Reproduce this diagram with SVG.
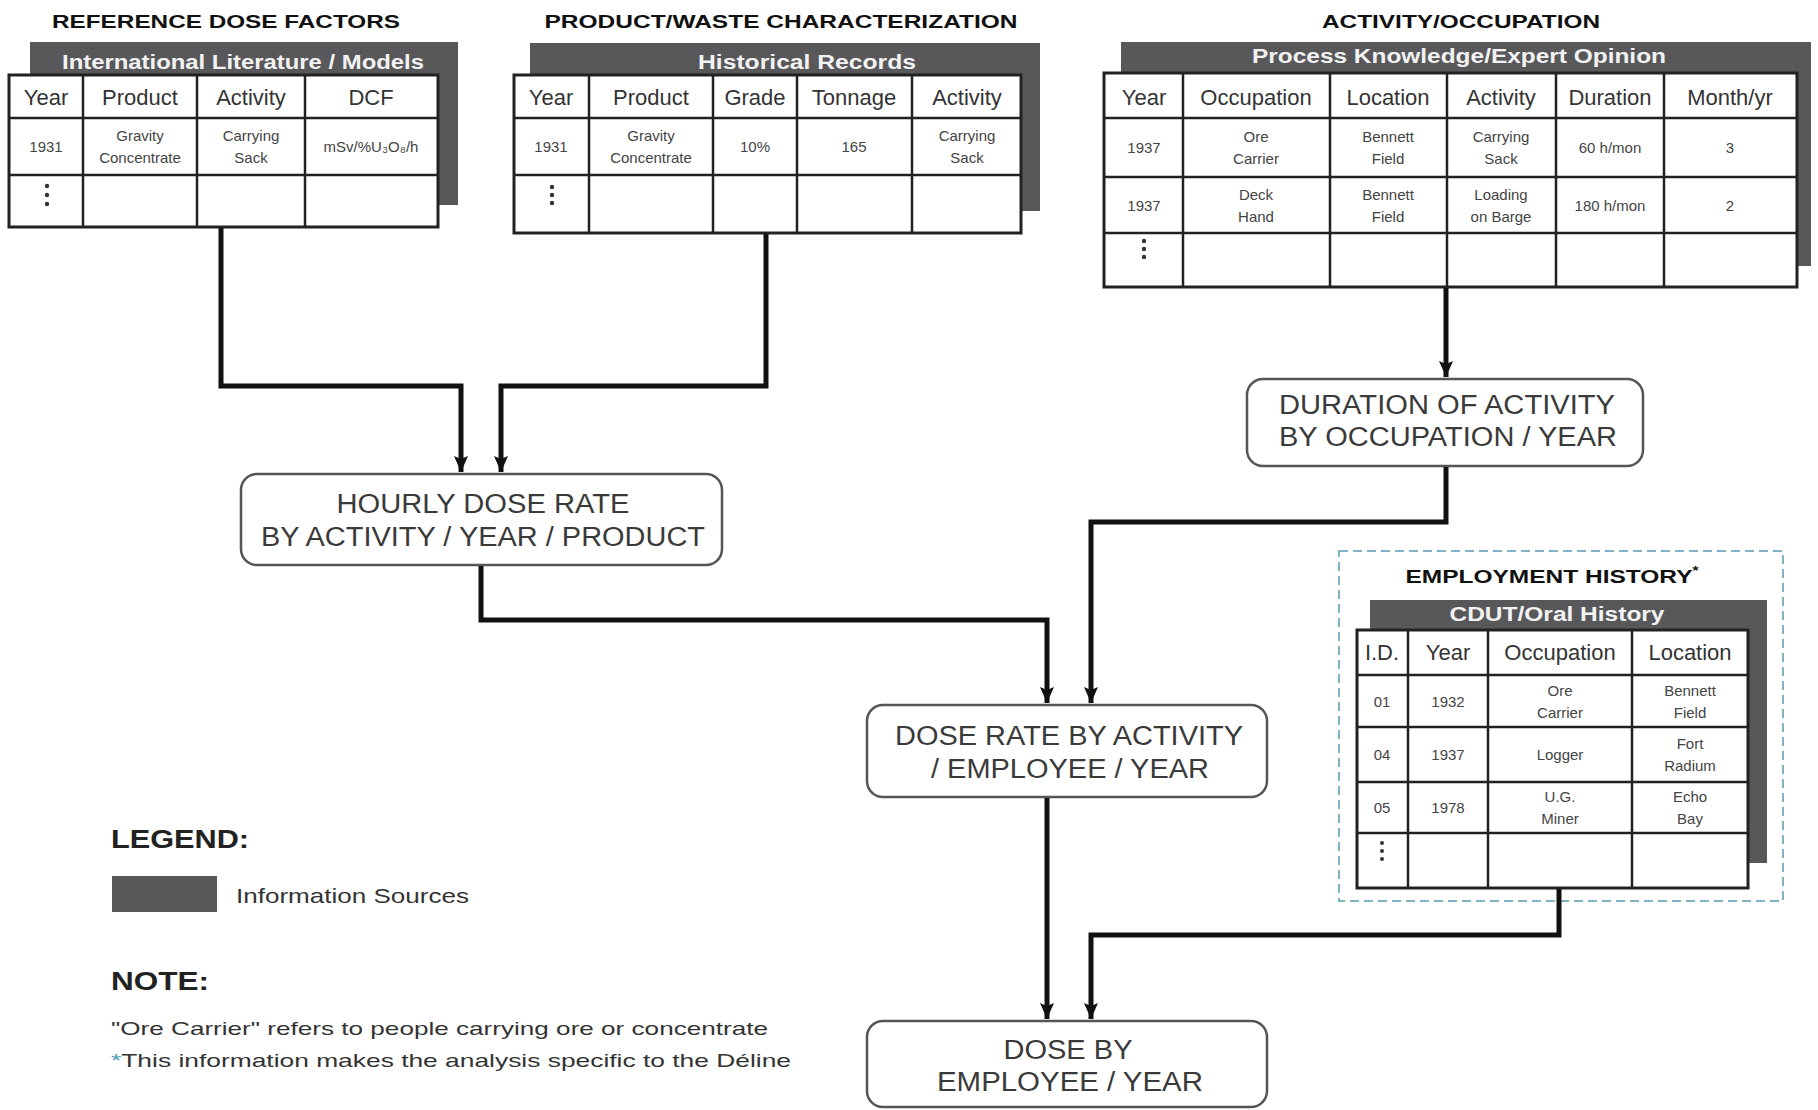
<svg xmlns="http://www.w3.org/2000/svg" width="1818" height="1110" viewBox="0 0 1818 1110">
<style>
text{font-family:"Liberation Sans",Arial,sans-serif;text-anchor:middle}
.title{font-size:19px;font-weight:bold;fill:#111}
.src{font-size:20px;font-weight:bold;fill:#f2f2f2}
.back{fill:#58585a}
.front{fill:#fff;stroke:#222;stroke-width:3}
.grid{stroke:#222;stroke-width:2.5;fill:none}
.hd{font-size:22px;fill:#333}
.cell{font-size:15px;fill:#444}
.node rect{fill:#fff;stroke:#555;stroke-width:2.5}
.nt{font-size:27px;fill:#3a3a3a}
.dot{fill:#333}
.conn{fill:none;stroke:#111;stroke-width:5;stroke-linejoin:miter}
.leg{font-size:26px;font-weight:bold;fill:#222;text-anchor:start}
.ltx{font-size:21px;fill:#333;text-anchor:start}
.note{font-size:19px;fill:#333;text-anchor:start}
</style>
<defs>
<marker id="arr" markerUnits="userSpaceOnUse" viewBox="0 0 16 14" refX="16" refY="7" markerWidth="16" markerHeight="14" orient="auto">
<path d="M0,0 L16,7 L0,14 L3,7 z" fill="#111"/>
</marker>
</defs>
<rect width="1818" height="1110" fill="#fff"/>

<!-- Table 1 -->
<g id="ref-dose-factors">
<text class="title" x="226" y="28" textLength="348" lengthAdjust="spacingAndGlyphs">REFERENCE DOSE FACTORS</text>
<rect class="back" x="30" y="42" width="428" height="163"/>
<text class="src" x="243" y="69" textLength="362" lengthAdjust="spacingAndGlyphs">International Literature / Models</text>
<rect class="front" x="9" y="75" width="429" height="152"/>
<path class="grid" d="M9,118 H438 M9,175 H438 M83,75 V227 M197,75 V227 M305,75 V227"/>
<text class="hd" x="46" y="105">Year</text>
<text class="hd" x="140" y="105">Product</text>
<text class="hd" x="251" y="105">Activity</text>
<text class="hd" x="371" y="105">DCF</text>
<text class="cell" x="46" y="152">1931</text>
<text class="cell" x="140" y="141">Gravity</text>
<text class="cell" x="140" y="163">Concentrate</text>
<text class="cell" x="251" y="141">Carrying</text>
<text class="cell" x="251" y="163">Sack</text>
<text class="cell" x="371" y="152">mSv/%U₃O₈/h</text>
<circle class="dot" cx="47" cy="186" r="2.2"/><circle class="dot" cx="47" cy="195" r="2.2"/><circle class="dot" cx="47" cy="204" r="2.2"/>
</g>

<!-- Table 2 -->
<g id="product-waste">
<text class="title" x="781" y="28" textLength="473" lengthAdjust="spacingAndGlyphs">PRODUCT/WASTE CHARACTERIZATION</text>
<rect class="back" x="530" y="43" width="510" height="168"/>
<text class="src" x="807" y="69" textLength="218" lengthAdjust="spacingAndGlyphs">Historical Records</text>
<rect class="front" x="514" y="75" width="507" height="158"/>
<path class="grid" d="M514,118 H1021 M514,175 H1021 M589,75 V233 M713,75 V233 M797,75 V233 M912,75 V233"/>
<text class="hd" x="551" y="105">Year</text>
<text class="hd" x="651" y="105">Product</text>
<text class="hd" x="755" y="105">Grade</text>
<text class="hd" x="854" y="105">Tonnage</text>
<text class="hd" x="967" y="105">Activity</text>
<text class="cell" x="551" y="152">1931</text>
<text class="cell" x="651" y="141">Gravity</text>
<text class="cell" x="651" y="163">Concentrate</text>
<text class="cell" x="755" y="152">10%</text>
<text class="cell" x="854" y="152">165</text>
<text class="cell" x="967" y="141">Carrying</text>
<text class="cell" x="967" y="163">Sack</text>
<circle class="dot" cx="552" cy="187" r="2.2"/><circle class="dot" cx="552" cy="195" r="2.2"/><circle class="dot" cx="552" cy="203" r="2.2"/>
</g>

<!-- Table 3 -->
<g id="activity-occupation">
<text class="title" x="1461" y="28" textLength="278" lengthAdjust="spacingAndGlyphs">ACTIVITY/OCCUPATION</text>
<rect class="back" x="1121" y="42" width="690" height="224"/>
<text class="src" x="1459" y="63" textLength="414" lengthAdjust="spacingAndGlyphs">Process Knowledge/Expert Opinion</text>
<rect class="front" x="1104" y="73" width="693" height="214"/>
<path class="grid" d="M1104,118 H1797 M1104,177 H1797 M1104,233 H1797 M1183,73 V287 M1330,73 V287 M1447,73 V287 M1556,73 V287 M1664,73 V287"/>
<text class="hd" x="1144" y="105">Year</text>
<text class="hd" x="1256" y="105">Occupation</text>
<text class="hd" x="1388" y="105">Location</text>
<text class="hd" x="1501" y="105">Activity</text>
<text class="hd" x="1610" y="105">Duration</text>
<text class="hd" x="1730" y="105">Month/yr</text>
<text class="cell" x="1144" y="153">1937</text>
<text class="cell" x="1256" y="142">Ore</text>
<text class="cell" x="1256" y="164">Carrier</text>
<text class="cell" x="1388" y="142">Bennett</text>
<text class="cell" x="1388" y="164">Field</text>
<text class="cell" x="1501" y="142">Carrying</text>
<text class="cell" x="1501" y="164">Sack</text>
<text class="cell" x="1610" y="153">60 h/mon</text>
<text class="cell" x="1730" y="153">3</text>
<text class="cell" x="1144" y="211">1937</text>
<text class="cell" x="1256" y="200">Deck</text>
<text class="cell" x="1256" y="222">Hand</text>
<text class="cell" x="1388" y="200">Bennett</text>
<text class="cell" x="1388" y="222">Field</text>
<text class="cell" x="1501" y="200">Loading</text>
<text class="cell" x="1501" y="222">on Barge</text>
<text class="cell" x="1610" y="211">180 h/mon</text>
<text class="cell" x="1730" y="211">2</text>
<circle class="dot" cx="1144" cy="241" r="2.2"/><circle class="dot" cx="1144" cy="249" r="2.2"/><circle class="dot" cx="1144" cy="257" r="2.2"/>
</g>

<!-- Employment history -->
<g id="employment-history">
<rect x="1339" y="551" width="444" height="350" fill="none" stroke="#7fb3c4" stroke-width="2" stroke-dasharray="9 5"/>
<text class="title" x="1552" y="583" textLength="293" lengthAdjust="spacingAndGlyphs">EMPLOYMENT HISTORY<tspan font-size="12" dy="-8">*</tspan></text>
<rect class="back" x="1370" y="600" width="397" height="263"/>
<text class="src" x="1557" y="621" textLength="215" lengthAdjust="spacingAndGlyphs">CDUT/Oral History</text>
<rect class="front" x="1357" y="630" width="391" height="258"/>
<path class="grid" d="M1357,675 H1748 M1357,727 H1748 M1357,782 H1748 M1357,833 H1748 M1408,630 V888 M1488,630 V888 M1632,630 V888"/>
<text class="hd" x="1382" y="660">I.D.</text>
<text class="hd" x="1448" y="660">Year</text>
<text class="hd" x="1560" y="660">Occupation</text>
<text class="hd" x="1690" y="660">Location</text>
<text class="cell" x="1382" y="707">01</text>
<text class="cell" x="1448" y="707">1932</text>
<text class="cell" x="1560" y="696">Ore</text>
<text class="cell" x="1560" y="718">Carrier</text>
<text class="cell" x="1690" y="696">Bennett</text>
<text class="cell" x="1690" y="718">Field</text>
<text class="cell" x="1382" y="760">04</text>
<text class="cell" x="1448" y="760">1937</text>
<text class="cell" x="1560" y="760">Logger</text>
<text class="cell" x="1690" y="749">Fort</text>
<text class="cell" x="1690" y="771">Radium</text>
<text class="cell" x="1382" y="813">05</text>
<text class="cell" x="1448" y="813">1978</text>
<text class="cell" x="1560" y="802">U.G.</text>
<text class="cell" x="1560" y="824">Miner</text>
<text class="cell" x="1690" y="802">Echo</text>
<text class="cell" x="1690" y="824">Bay</text>
<circle class="dot" cx="1382" cy="843" r="2"/><circle class="dot" cx="1382" cy="851" r="2"/><circle class="dot" cx="1382" cy="859" r="2"/>
</g>

<!-- Process nodes -->
<g id="hourly-dose-rate" class="node">
<rect x="241" y="474" width="481" height="91" rx="16"/>
<text class="nt" x="483" y="513" textLength="293" lengthAdjust="spacingAndGlyphs">HOURLY DOSE RATE</text>
<text class="nt" x="483" y="546" textLength="444" lengthAdjust="spacingAndGlyphs">BY ACTIVITY / YEAR / PRODUCT</text>
</g>
<g id="duration-of-activity" class="node">
<rect x="1247" y="379" width="396" height="87" rx="16"/>
<text class="nt" x="1447" y="414" textLength="336" lengthAdjust="spacingAndGlyphs">DURATION OF ACTIVITY</text>
<text class="nt" x="1448" y="446" textLength="338" lengthAdjust="spacingAndGlyphs">BY OCCUPATION / YEAR</text>
</g>
<g id="dose-rate-by-activity" class="node">
<rect x="867" y="705" width="400" height="92" rx="16"/>
<text class="nt" x="1069" y="745" textLength="348" lengthAdjust="spacingAndGlyphs">DOSE RATE BY ACTIVITY</text>
<text class="nt" x="1070" y="778" textLength="278" lengthAdjust="spacingAndGlyphs">/ EMPLOYEE / YEAR</text>
</g>
<g id="dose-by-employee" class="node">
<rect x="867" y="1021" width="400" height="86" rx="16"/>
<text class="nt" x="1068" y="1059" textLength="129" lengthAdjust="spacingAndGlyphs">DOSE BY</text>
<text class="nt" x="1070" y="1091" textLength="266" lengthAdjust="spacingAndGlyphs">EMPLOYEE / YEAR</text>
</g>

<!-- Connectors -->
<g id="connectors">
<path class="conn" d="M221,228 V386 H461 V472" marker-end="url(#arr)"/>
<path class="conn" d="M766,234 V386 H501 V472" marker-end="url(#arr)"/>
<path class="conn" d="M1446,288 V377" marker-end="url(#arr)"/>
<path class="conn" d="M481,566 V620 H1047 V703" marker-end="url(#arr)"/>
<path class="conn" d="M1446,467 V522 H1091 V703" marker-end="url(#arr)"/>
<path class="conn" d="M1047,798 V1019" marker-end="url(#arr)"/>
<path class="conn" d="M1559,889 V935 H1091 V1019" marker-end="url(#arr)"/>
</g>

<!-- Legend and notes -->
<g id="legend">
<text class="leg" x="111" y="848" textLength="138" lengthAdjust="spacingAndGlyphs">LEGEND:</text>
<rect class="back" x="112" y="876" width="105" height="36"/>
<text class="ltx" x="236" y="903" textLength="233" lengthAdjust="spacingAndGlyphs">Information Sources</text>
<text class="leg" x="111" y="990" textLength="98" lengthAdjust="spacingAndGlyphs">NOTE:</text>
<text class="note" x="111" y="1035" textLength="657" lengthAdjust="spacingAndGlyphs">"Ore Carrier" refers to people carrying ore or concentrate</text>
<text class="note" x="111" y="1067" textLength="680" lengthAdjust="spacingAndGlyphs"><tspan fill="#4a9fb5">*</tspan>This information makes the analysis specific to the Déline</text>
</g>
</svg>
